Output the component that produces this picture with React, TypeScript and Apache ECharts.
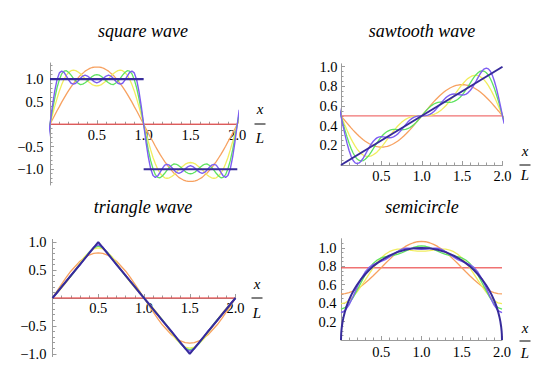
import { useEffect, useRef } from 'react';
import * as echarts from 'echarts';

// Sample grid shared by the square and sawtooth panels (a hair past both ends).
const xFine = [-0.02, 0, 0.025, 0.05, 0.075, 0.1, 0.125, 0.15, 0.175, 0.2, 0.225, 0.25, 0.275, 0.3, 0.325, 0.35, 0.375, 0.4, 0.425, 0.45, 0.475, 0.5, 0.525, 0.55, 0.575, 0.6, 0.625, 0.65, 0.675, 0.7, 0.725, 0.75, 0.775, 0.8, 0.825, 0.85, 0.875, 0.9, 0.925, 0.95, 0.975, 1, 1.025, 1.05, 1.075, 1.1, 1.125, 1.15, 1.175, 1.2, 1.225, 1.25, 1.275, 1.3, 1.325, 1.35, 1.375, 1.4, 1.425, 1.45, 1.475, 1.5, 1.525, 1.55, 1.575, 1.6, 1.625, 1.65, 1.675, 1.7, 1.725, 1.75, 1.775, 1.8, 1.825, 1.85, 1.875, 1.9, 1.925, 1.95, 1.975, 2, 2.02];

// Grid for the triangle and semicircle panels.
const xCoarse = [0, 0.05, 0.1, 0.15, 0.2, 0.25, 0.3, 0.35, 0.4, 0.45, 0.5, 0.55, 0.6, 0.65, 0.7, 0.75, 0.8, 0.85, 0.9, 0.95, 1, 1.05, 1.1, 1.15, 1.2, 1.25, 1.3, 1.35, 1.4, 1.45, 1.5, 1.55, 1.6, 1.65, 1.7, 1.75, 1.8, 1.85, 1.9, 1.95, 2];

// ---- square wave ----
const sqMeanX = [0, 2];
const sqMeanY = [0, 0];
const sqOrange = [-0.08,
  0, 0.10, 0.20, 0.30, 0.39, 0.49, 0.58, 0.67, 0.75, 0.83, 0.90, 0.97, 1.03, 1.09, 1.13, 1.18, 1.21, 1.24, 1.26, 1.27, 1.27, 1.27, 1.26, 1.24, 1.21, 1.18, 1.13, 1.09, 1.03, 0.97, 0.90, 0.83, 0.75, 0.67, 0.58, 0.49, 0.39, 0.30, 0.20, 0.10, 0,
  -0.10, -0.20, -0.30, -0.39, -0.49, -0.58, -0.67, -0.75, -0.83, -0.90, -0.97, -1.03, -1.09, -1.13, -1.18, -1.21, -1.24, -1.26, -1.27, -1.27, -1.27, -1.26, -1.24, -1.21, -1.18, -1.13, -1.09, -1.03, -0.97, -0.90, -0.83, -0.75, -0.67, -0.58, -0.49, -0.39, -0.30, -0.20, -0.10, 0,
  0.08];
const sqYellow = [-0.16,
  0, 0.20, 0.39, 0.57, 0.74, 0.88, 1.00, 1.09, 1.15, 1.19, 1.20, 1.19, 1.16, 1.12, 1.07, 1.01, 0.96, 0.92, 0.88, 0.86, 0.85, 0.86, 0.88, 0.92, 0.96, 1.01, 1.07, 1.12, 1.16, 1.19, 1.20, 1.19, 1.15, 1.09, 1.00, 0.88, 0.74, 0.57, 0.39, 0.20, 0,
  -0.20, -0.39, -0.57, -0.74, -0.88, -1.00, -1.09, -1.15, -1.19, -1.20, -1.19, -1.16, -1.12, -1.07, -1.01, -0.96, -0.92, -0.88, -0.86, -0.85, -0.86, -0.88, -0.92, -0.96, -1.01, -1.07, -1.12, -1.16, -1.19, -1.20, -1.19, -1.15, -1.09, -1.00, -0.88, -0.74, -0.57, -0.39, -0.20, 0,
  0.16];
const sqGreen = [-0.24,
  0, 0.30, 0.57, 0.81, 0.99, 1.12, 1.18, 1.19, 1.15, 1.09, 1.02, 0.96, 0.91, 0.88, 0.89, 0.92, 0.96, 1.01, 1.06, 1.09, 1.10, 1.09, 1.06, 1.01, 0.96, 0.92, 0.89, 0.88, 0.91, 0.96, 1.02, 1.09, 1.15, 1.19, 1.18, 1.12, 0.99, 0.81, 0.57, 0.30, 0,
  -0.30, -0.57, -0.81, -0.99, -1.12, -1.18, -1.19, -1.15, -1.09, -1.02, -0.96, -0.91, -0.88, -0.89, -0.92, -0.96, -1.01, -1.06, -1.09, -1.10, -1.09, -1.06, -1.01, -0.96, -0.92, -0.89, -0.88, -0.91, -0.96, -1.02, -1.09, -1.15, -1.19, -1.18, -1.12, -0.99, -0.81, -0.57, -0.30, 0,
  0.24];
const sqPurple = [-0.32,
  0, 0.39, 0.73, 0.99, 1.14, 1.18, 1.15, 1.07, 0.98, 0.91, 0.89, 0.91, 0.96, 1.02, 1.07, 1.09, 1.07, 1.03, 0.98, 0.94, 0.92, 0.94, 0.98, 1.03, 1.07, 1.09, 1.07, 1.02, 0.96, 0.91, 0.89, 0.91, 0.98, 1.07, 1.15, 1.18, 1.14, 0.99, 0.73, 0.39, 0,
  -0.39, -0.73, -0.99, -1.14, -1.18, -1.15, -1.07, -0.98, -0.91, -0.89, -0.91, -0.96, -1.02, -1.07, -1.09, -1.07, -1.03, -0.98, -0.94, -0.92, -0.94, -0.98, -1.03, -1.07, -1.09, -1.07, -1.02, -0.96, -0.91, -0.89, -0.91, -0.98, -1.07, -1.15, -1.18, -1.14, -0.99, -0.73, -0.39, 0,
  0.32];
const sqExactX = [0, 1, 1, 1, 2];
const sqExactY = [1, 1, null, -1, -1];

// ---- sawtooth wave ----
const stMeanX = [0, 2];
const stMeanY = [0.5, 0.5];
const stOrange = [0.52,
  0.500, 0.475, 0.450, 0.426, 0.402, 0.378, 0.355, 0.334, 0.313, 0.293, 0.275, 0.258, 0.242, 0.229, 0.216, 0.206, 0.197, 0.190, 0.186, 0.183, 0.182, 0.183, 0.186, 0.190, 0.197, 0.206, 0.216, 0.229, 0.242, 0.258, 0.275, 0.293, 0.313, 0.334, 0.355, 0.378, 0.402, 0.426, 0.450, 0.475, 0.500,
  0.525, 0.550, 0.574, 0.598, 0.622, 0.645, 0.666, 0.687, 0.707, 0.725, 0.742, 0.758, 0.771, 0.784, 0.794, 0.803, 0.810, 0.814, 0.817, 0.818, 0.817, 0.814, 0.810, 0.803, 0.794, 0.784, 0.771, 0.758, 0.742, 0.725, 0.707, 0.687, 0.666, 0.645, 0.622, 0.598, 0.574, 0.550, 0.525, 0.500,
  0.48];
const stYellow = [0.54,
  0.500, 0.450, 0.401, 0.353, 0.308, 0.266, 0.227, 0.192, 0.162, 0.136, 0.116, 0.101, 0.091, 0.087, 0.088, 0.093, 0.104, 0.118, 0.136, 0.158, 0.182, 0.208, 0.235, 0.263, 0.291, 0.318, 0.345, 0.370, 0.394, 0.415, 0.434, 0.451, 0.464, 0.476, 0.484, 0.491, 0.495, 0.498, 0.499, 0.500, 0.500,
  0.500, 0.501, 0.502, 0.505, 0.509, 0.516, 0.524, 0.536, 0.549, 0.566, 0.585, 0.606, 0.630, 0.655, 0.682, 0.709, 0.737, 0.765, 0.792, 0.818, 0.842, 0.864, 0.882, 0.896, 0.907, 0.912, 0.913, 0.909, 0.899, 0.884, 0.864, 0.838, 0.808, 0.773, 0.734, 0.692, 0.647, 0.599, 0.550, 0.500,
  0.46];
const stGreen = [0.56,
  0.500, 0.425, 0.353, 0.285, 0.222, 0.168, 0.122, 0.086, 0.061, 0.046, 0.041, 0.045, 0.058, 0.078, 0.104, 0.134, 0.166, 0.199, 0.231, 0.261, 0.288, 0.311, 0.329, 0.343, 0.353, 0.359, 0.362, 0.362, 0.361, 0.360, 0.359, 0.360, 0.363, 0.370, 0.379, 0.393, 0.409, 0.429, 0.451, 0.475, 0.500,
  0.525, 0.549, 0.571, 0.591, 0.607, 0.621, 0.630, 0.637, 0.640, 0.641, 0.640, 0.639, 0.638, 0.638, 0.641, 0.647, 0.657, 0.671, 0.689, 0.712, 0.739, 0.769, 0.801, 0.834, 0.866, 0.896, 0.922, 0.942, 0.955, 0.959, 0.954, 0.939, 0.914, 0.878, 0.832, 0.778, 0.715, 0.647, 0.575, 0.500,
  0.44];
const stPurple = [0.58,
  0.500, 0.401, 0.306, 0.220, 0.147, 0.088, 0.046, 0.022, 0.014, 0.021, 0.041, 0.070, 0.105, 0.143, 0.180, 0.214, 0.242, 0.263, 0.278, 0.286, 0.288, 0.286, 0.283, 0.279, 0.277, 0.280, 0.286, 0.298, 0.314, 0.335, 0.359, 0.385, 0.410, 0.434, 0.455, 0.472, 0.485, 0.493, 0.498, 0.500, 0.500,
  0.500, 0.502, 0.507, 0.515, 0.528, 0.545, 0.566, 0.590, 0.615, 0.641, 0.665, 0.686, 0.702, 0.714, 0.720, 0.723, 0.721, 0.717, 0.714, 0.712, 0.714, 0.722, 0.737, 0.758, 0.786, 0.820, 0.857, 0.895, 0.930, 0.959, 0.979, 0.986, 0.978, 0.954, 0.912, 0.853, 0.780, 0.694, 0.599, 0.500,
  0.42];
const stExactX = [0, 2];
const stExactY = [0, 1];

// ---- triangle wave ----
const trMeanX = [0, 2];
const trMeanY = [0, 0];
const trOrange = [0, 0.13, 0.25, 0.37, 0.48, 0.57, 0.66, 0.72, 0.77, 0.80, 0.81, 0.80, 0.77, 0.72, 0.66, 0.57, 0.48, 0.37, 0.25, 0.13, 0, -0.13, -0.25, -0.37, -0.48, -0.57, -0.66, -0.72, -0.77, -0.80, -0.81, -0.80, -0.77, -0.72, -0.66, -0.57, -0.48, -0.37, -0.25, -0.13, 0];
const trYellow = [0, 0.09, 0.18, 0.28, 0.39, 0.51, 0.63, 0.74, 0.82, 0.88, 0.90, 0.88, 0.82, 0.74, 0.63, 0.51, 0.39, 0.28, 0.18, 0.09, 0, -0.09, -0.18, -0.28, -0.39, -0.51, -0.63, -0.74, -0.82, -0.88, -0.90, -0.88, -0.82, -0.74, -0.63, -0.51, -0.39, -0.28, -0.18, -0.09, 0];
const trGreen = [0, 0.11, 0.21, 0.30, 0.39, 0.49, 0.60, 0.71, 0.82, 0.90, 0.93, 0.90, 0.82, 0.71, 0.60, 0.49, 0.39, 0.30, 0.21, 0.11, 0, -0.11, -0.21, -0.30, -0.39, -0.49, -0.60, -0.71, -0.82, -0.90, -0.93, -0.90, -0.82, -0.71, -0.60, -0.49, -0.39, -0.30, -0.21, -0.11, 0];
const trPurple = [0, 0.09, 0.20, 0.30, 0.41, 0.50, 0.59, 0.70, 0.81, 0.91, 0.95, 0.91, 0.81, 0.70, 0.59, 0.50, 0.41, 0.30, 0.20, 0.09, 0, -0.09, -0.20, -0.30, -0.41, -0.50, -0.59, -0.70, -0.81, -0.91, -0.95, -0.91, -0.81, -0.70, -0.59, -0.50, -0.41, -0.30, -0.20, -0.09, 0];
const trExactX = [0, 0.5, 1.5, 2];
const trExactY = [0, 1, -1, 0];

// ---- semicircle ----
const scMeanX = [0, 2];
const scMeanY = [0.785, 0.785];
const scOrange = [0.501, 0.504, 0.515, 0.532, 0.555, 0.584, 0.618, 0.656, 0.698, 0.741, 0.785, 0.830, 0.873, 0.915, 0.953, 0.987, 1.016, 1.039, 1.056, 1.067, 1.070, 1.067, 1.056, 1.039, 1.016, 0.987, 0.953, 0.915, 0.873, 0.830, 0.785, 0.741, 0.698, 0.656, 0.618, 0.584, 0.555, 0.532, 0.515, 0.504, 0.501];
const scYellow = [0.395, 0.403, 0.429, 0.469, 0.522, 0.584, 0.651, 0.719, 0.783, 0.842, 0.892, 0.931, 0.959, 0.977, 0.986, 0.987, 0.983, 0.977, 0.970, 0.966, 0.964, 0.966, 0.970, 0.977, 0.983, 0.987, 0.986, 0.977, 0.959, 0.931, 0.892, 0.842, 0.783, 0.719, 0.651, 0.584, 0.522, 0.469, 0.429, 0.403, 0.395];
const scGreen = [0.336, 0.351, 0.394, 0.460, 0.541, 0.626, 0.707, 0.777, 0.831, 0.869, 0.892, 0.904, 0.912, 0.919, 0.930, 0.945, 0.965, 0.986, 1.005, 1.018, 1.023, 1.018, 1.005, 0.986, 0.965, 0.945, 0.930, 0.919, 0.912, 0.904, 0.892, 0.869, 0.831, 0.777, 0.707, 0.626, 0.541, 0.460, 0.394, 0.351, 0.336];
const scPurple = [0.297, 0.320, 0.382, 0.472, 0.572, 0.664, 0.738, 0.789, 0.819, 0.837, 0.853, 0.873, 0.900, 0.931, 0.961, 0.984, 0.996, 0.998, 0.993, 0.987, 0.984, 0.987, 0.993, 0.998, 0.996, 0.984, 0.961, 0.931, 0.900, 0.873, 0.853, 0.837, 0.819, 0.789, 0.738, 0.664, 0.572, 0.472, 0.382, 0.320, 0.297];
const scExactX = [0, 0.002, 0.005, 0.01, 0.02, 0.03, 0.045, 0.06, 0.08, 0.1, 0.13, 0.16, 0.2, 0.25, 0.3, 0.35, 0.4, 0.45, 0.5, 0.6, 0.7, 0.8, 0.9, 1, 1.1, 1.2, 1.3, 1.4, 1.5, 1.55, 1.6, 1.65, 1.7, 1.75, 1.8, 1.84, 1.87, 1.9, 1.92, 1.94, 1.955, 1.97, 1.98, 1.99, 1.995, 1.998, 2];
const scExactY = [0, 0.063, 0.100, 0.141, 0.199, 0.243, 0.297, 0.341, 0.392, 0.436, 0.493, 0.543, 0.600, 0.661, 0.714, 0.760, 0.800, 0.835, 0.866, 0.917, 0.954, 0.980, 0.995, 1, 0.995, 0.980, 0.954, 0.917, 0.866, 0.835, 0.800, 0.760, 0.714, 0.661, 0.600, 0.543, 0.493, 0.436, 0.392, 0.341, 0.297, 0.243, 0.199, 0.141, 0.100, 0.063, 0];

// ---- ticks ----
const xMajor = [0.5, 1, 1.5, 2];
const xMinor = [0.1, 0.2, 0.3, 0.4, 0.6, 0.7, 0.8, 0.9, 1.1, 1.2, 1.3, 1.4, 1.6, 1.7, 1.8, 1.9];
const pmMajor = [-1, -0.5, 0.5, 1];
const sqYMinor = [-1.3, -1.2, -1.1, -0.9, -0.8, -0.7, -0.6, -0.4, -0.3, -0.2, -0.1, 0.1, 0.2, 0.3, 0.4, 0.6, 0.7, 0.8, 0.9, 1.1, 1.2, 1.3];
const trYMinor = [-0.9, -0.8, -0.7, -0.6, -0.4, -0.3, -0.2, -0.1, 0.1, 0.2, 0.3, 0.4, 0.6, 0.7, 0.8, 0.9];
const posMajor = [0.2, 0.4, 0.6, 0.8, 1];
const stYMinor = [0.05, 0.1, 0.15, 0.25, 0.3, 0.35, 0.45, 0.5, 0.55, 0.65, 0.7, 0.75, 0.85, 0.9, 0.95];
const scYMinor = [0.05, 0.1, 0.15, 0.25, 0.3, 0.35, 0.45, 0.5, 0.55, 0.65, 0.7, 0.75, 0.85, 0.9, 0.95, 1.05];

const titles = ['square wave', 'sawtooth wave', 'triangle wave', 'semicircle'];

const SERIF = 'Liberation Serif';
const AXIS = '#9b9b9b';
const COL = {
  red: 'rgba(236, 74, 74, 0.78)',
  orange: '#f7a160',
  yellow: '#f1ed5e',
  green: '#5fe361',
  purple: '#7d5ef2',
  exact: '#372b9b',
};

const LABEL_SIZE = 14.5;
const fmt = (v: number) => (v < 0 ? '\u2212' + Math.abs(v).toFixed(1) : v.toFixed(1));
const tickText = (v: number) => '{t|' + fmt(v) + '}';
const tickRich = { t: { fontFamily: SERIF, fontSize: LABEL_SIZE, color: '#000' } };

function pairs(xs: number[], ys: (number | null)[]) {
  return xs.map((x, i) => [x, ys[i] == null ? '-' : ys[i]]);
}

type Panel = {
  grid: { left: number; top: number; width: number; height: number };
  yMin: number;
  yMax: number;
  yMajor: number[];
  yMinor: number[];
  yLabelMargin: number;
  xLabelMargin: number;
  curves: { xs: number[]; ys: (number | null)[]; color: string; width: number; clip?: boolean }[];
  title: { x: number; y: number };
  frac: { x: number; top: number; bar: number; bottom: number };
};

const panels: Panel[] = [
  {
    grid: { left: 50, top: 63, width: 187.3, height: 122 },
    yMin: -1.35, yMax: 1.36, yMajor: pmMajor, yMinor: sqYMinor, yLabelMargin: 6.5, xLabelMargin: 3.5,
    curves: [
      { xs: sqMeanX, ys: sqMeanY, color: COL.red, width: 1.4 },
      { xs: xFine, ys: sqOrange, color: COL.orange, width: 1.3, clip: false },
      { xs: xFine, ys: sqYellow, color: COL.yellow, width: 1.3, clip: false },
      { xs: xFine, ys: sqGreen, color: COL.green, width: 1.3, clip: false },
      { xs: xFine, ys: sqPurple, color: COL.purple, width: 1.4, clip: false },
      { xs: sqExactX, ys: sqExactY, color: COL.exact, width: 2.2 },
    ],
    title: { x: 143, y: 31 },
    frac: { x: 260, top: 109, bar: 124, bottom: 138 },
  },
  {
    grid: { left: 341, top: 63.8, width: 161.5, height: 101.2 },
    yMin: 0, yMax: 1.03, yMajor: posMajor, yMinor: stYMinor, yLabelMargin: 3.5, xLabelMargin: 3.5,
    curves: [
      { xs: stMeanX, ys: stMeanY, color: COL.red, width: 1.4 },
      { xs: xFine, ys: stOrange, color: COL.orange, width: 1.3, clip: false },
      { xs: xFine, ys: stYellow, color: COL.yellow, width: 1.3, clip: false },
      { xs: xFine, ys: stGreen, color: COL.green, width: 1.3, clip: false },
      { xs: xFine, ys: stPurple, color: COL.purple, width: 1.4, clip: false },
      { xs: stExactX, ys: stExactY, color: COL.exact, width: 2 },
    ],
    title: { x: 422, y: 31 },
    frac: { x: 525, top: 151, bar: 165, bottom: 175 },
  },
  {
    grid: { left: 52.5, top: 239.4, width: 183, height: 117.2 },
    yMin: -1.05, yMax: 1.05, yMajor: pmMajor, yMinor: trYMinor, yLabelMargin: 6, xLabelMargin: 2.5,
    curves: [
      { xs: trMeanX, ys: trMeanY, color: COL.red, width: 1.4 },
      { xs: xCoarse, ys: trOrange, color: COL.orange, width: 1.3 },
      { xs: xCoarse, ys: trYellow, color: COL.yellow, width: 1.3 },
      { xs: xCoarse, ys: trGreen, color: COL.green, width: 1.3 },
      { xs: xCoarse, ys: trPurple, color: COL.purple, width: 1.4 },
      { xs: trExactX, ys: trExactY, color: COL.exact, width: 2 },
    ],
    title: { x: 143, y: 206.5 },
    frac: { x: 257, top: 284, bar: 298, bottom: 313 },
  },
  {
    grid: { left: 341, top: 238.7, width: 161, height: 101.3 },
    yMin: 0, yMax: 1.1, yMajor: posMajor, yMinor: scYMinor, yLabelMargin: 4.5, xLabelMargin: 4,
    curves: [
      { xs: scMeanX, ys: scMeanY, color: COL.red, width: 1.4 },
      { xs: xCoarse, ys: scOrange, color: COL.orange, width: 1.3 },
      { xs: xCoarse, ys: scYellow, color: COL.yellow, width: 1.3 },
      { xs: xCoarse, ys: scGreen, color: COL.green, width: 1.3 },
      { xs: xCoarse, ys: scPurple, color: COL.purple, width: 1.4 },
      { xs: scExactX, ys: scExactY, color: COL.exact, width: 2 },
    ],
    title: { x: 422, y: 206.5 },
    frac: { x: 525, top: 328, bar: 341, bottom: 353 },
  },
];

function buildOption() {
  const grid: any[] = [];
  const xAxis: any[] = [];
  const yAxis: any[] = [];
  const series: any[] = [];
  const graphic: any[] = [];

  panels.forEach((p, g) => {
    grid.push({ ...p.grid, containLabel: false });
    // lift the x axis from the grid's bottom edge up to y = 0
    const zeroLift = -(p.grid.height * (0 - p.yMin)) / (p.yMax - p.yMin);
    const xCommon = {
      type: 'value', gridIndex: g, min: 0, max: 2, position: 'bottom', offset: zeroLift,
      splitLine: { show: false },
    };
    const yCommon = {
      type: 'value', gridIndex: g, min: p.yMin, max: p.yMax, position: 'left', offset: 0,
      splitLine: { show: false },
    };
    // major ticks + labels
    xAxis.push({
      ...xCommon,
      axisLine: { show: true, onZero: false, lineStyle: { color: AXIS, width: 1 } },
      axisTick: { show: true, inside: true, length: 4, customValues: xMajor, lineStyle: { color: AXIS } },
      axisLabel: {
        show: true, customValues: xMajor, formatter: tickText, rich: tickRich, margin: p.xLabelMargin,
        color: '#000', fontFamily: SERIF, fontSize: LABEL_SIZE,
      },
    });
    // minor ticks
    xAxis.push({
      ...xCommon,
      axisLine: { show: false, onZero: false },
      axisTick: { show: true, inside: true, length: 2.5, customValues: xMinor, lineStyle: { color: AXIS } },
      axisLabel: { show: false },
    });
    yAxis.push({
      ...yCommon,
      axisLine: { show: true, onZero: false, lineStyle: { color: AXIS, width: 1 } },
      axisTick: { show: true, inside: true, length: 4, customValues: p.yMajor, lineStyle: { color: AXIS } },
      axisLabel: {
        show: true, customValues: p.yMajor, formatter: tickText, rich: tickRich, margin: p.yLabelMargin,
        color: '#000', fontFamily: SERIF, fontSize: LABEL_SIZE,
      },
    });
    yAxis.push({
      ...yCommon,
      axisLine: { show: false, onZero: false },
      axisTick: { show: true, inside: true, length: 2.5, customValues: p.yMinor, lineStyle: { color: AXIS } },
      axisLabel: { show: false },
    });

    p.curves.forEach((c) => {
      series.push({
        type: 'line',
        xAxisIndex: 2 * g,
        yAxisIndex: 2 * g,
        data: pairs(c.xs, c.ys),
        showSymbol: false,
        symbol: 'none',
        clip: c.clip !== false,
        silent: true,
        connectNulls: false,
        lineStyle: { color: c.color, width: c.width },
      });
    });

    graphic.push({
      type: 'text',
      x: p.title.x,
      y: p.title.y,
      style: {
        text: titles[g],
        fill: '#000',
        font: `italic 18px "${SERIF}", serif`,
        align: 'center',
        verticalAlign: 'middle',
      },
    });
    graphic.push({
      type: 'text',
      x: p.frac.x,
      y: p.frac.top,
      style: { text: 'x', fill: '#000', font: `italic 15px "${SERIF}", serif`, align: 'center', verticalAlign: 'middle' },
    });
    graphic.push({
      type: 'line',
      shape: { x1: p.frac.x - 5.5, y1: p.frac.bar, x2: p.frac.x + 5.5, y2: p.frac.bar },
      style: { stroke: '#000', lineWidth: 1 },
    });
    graphic.push({
      type: 'text',
      x: p.frac.x,
      y: p.frac.bottom,
      style: { text: 'L', fill: '#000', font: `italic 15px "${SERIF}", serif`, align: 'center', verticalAlign: 'middle' },
    });
  });

  return {
    animation: false,
    backgroundColor: '#ffffff',
    textStyle: { fontFamily: SERIF },
    grid,
    xAxis,
    yAxis,
    series,
    graphic,
  };
}

export default function App() {
  const ref = useRef<HTMLDivElement>(null);
  useEffect(() => {
    if (!ref.current) return;
    const chart = echarts.init(ref.current, undefined, { renderer: 'svg' });
    chart.setOption(buildOption() as any);
    return () => chart.dispose();
  }, []);
  return (
    <div
      ref={ref}
      style={{ position: 'fixed', left: 0, top: 0, width: 544, height: 365, background: '#fff' }}
    />
  );
}
